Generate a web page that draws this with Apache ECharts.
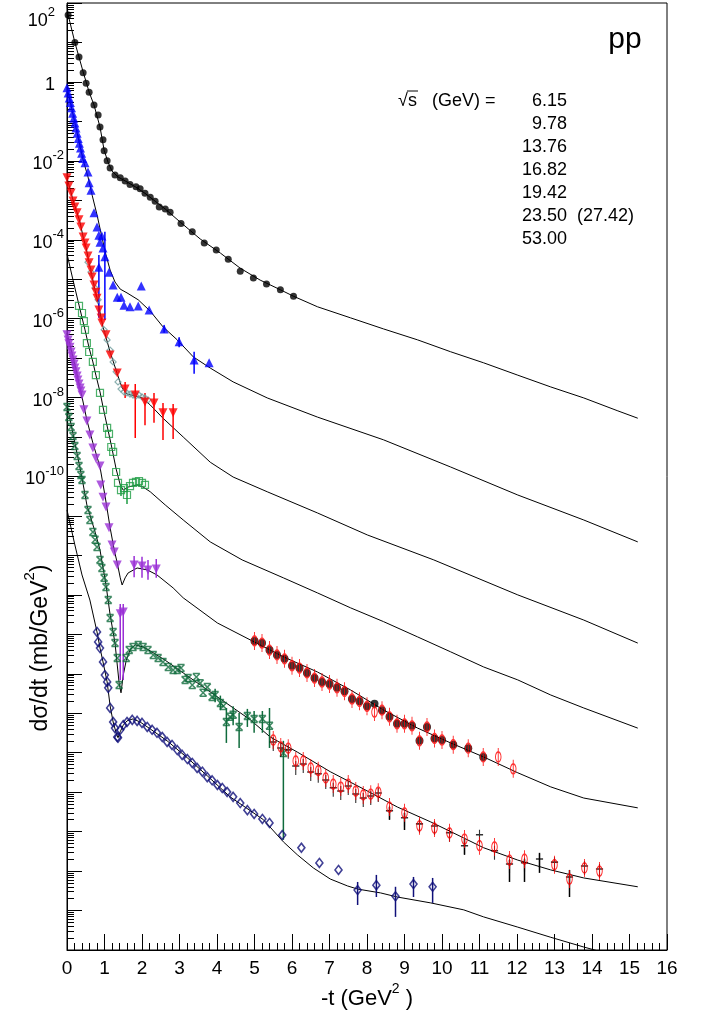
<!DOCTYPE html>
<html><head><meta charset="utf-8">
<script src="https://cdn.jsdelivr.net/npm/echarts@6/dist/echarts.min.js"></script>
<style>html,body{margin:0;padding:0;background:#fff}#c{width:705px;height:1027px}</style>
</head><body><div id="c"></div>
<script>
// ---------- tick labels / legend text ----------
const yLabelValues = [1e2, 1, 1e-2, 1e-4, 1e-6, 1e-8, 1e-10];
const energies = ['6.15', '9.78', '13.76', '16.82', '19.42', '23.50  (27.42)', '53.00'];

// ---------- model curves [ -t (GeV^2), dσ/dt (mb/GeV^2) ] ----------
const curveA = [[0,89],[0.03,50],[0.21,10],[0.43,1.8],[0.59,0.55],[0.72,0.26],[0.88,0.072],[0.99,0.0186],[1.10,8.9e-3],[1.20,5.5e-3],[1.36,3.9e-3],[1.55,3.1e-3],[1.82,2.2e-3],[2.08,1.5e-3],[2.35,9.5e-4],[2.62,6.0e-4],[3.02,2.8e-4],[3.55,1.05e-4],[4.09,4.6e-5],[4.62,1.9e-5],[5.15,9.5e-6],[5.69,5.4e-6],[6.04,3.7e-6],[6.68,2.0e-6],[7.56,1.05e-6],[8.44,5.5e-7],[9.35,2.9e-7],[10.23,1.45e-7],[11.11,7.6e-8],[12.02,3.7e-8],[12.90,1.86e-8],[13.78,9.8e-9],[14.69,4.6e-9],[15.22,3.0e-9]];
const curveB = [[0,0.74],[0.21,0.091],[0.43,0.0105],[0.56,3.9e-3],[0.67,1.35e-3],[0.80,4.3e-4],[0.93,1.17e-4],[1.04,4.1e-5],[1.15,1.7e-5],[1.28,8.5e-6],[1.42,5.6e-6],[1.60,4.5e-6],[1.90,3.0e-6],[2.22,1.55e-6],[2.56,6.2e-7],[2.94,2.9e-7],[3.37,1.07e-7],[3.82,5.6e-8],[4.43,2.5e-8],[5.34,9.8e-9],[6.68,3.2e-9],[8.44,8.5e-10],[10.23,1.74e-10],[12.02,3.4e-11],[13.78,7.9e-12],[15.22,2.2e-12]];
const curveC = [[0,3.7e-3],[0.16,1.02e-3],[0.27,4.8e-4],[0.35,2.7e-4],[0.43,1.17e-4],[0.51,6.2e-5],[0.59,2.6e-5],[0.67,1.14e-5],[0.75,5.3e-6],[0.83,2.5e-6],[0.91,1.04e-6],[0.96,6.2e-7],[1.15,1.43e-7],[1.34,4.0e-8],[1.47,1.75e-8],[1.60,1.23e-8],[1.82,1.1e-8],[2.00,9.8e-9],[2.22,6.5e-9],[2.56,3.0e-9],[3.10,1.0e-9],[3.82,2.3e-10],[4.43,9.7e-11],[5.34,4.1e-11],[6.68,1.19e-11],[8.01,3.3e-12],[9.78,7.7e-13],[12.02,1.0e-13],[13.78,2.3e-14],[15.22,6.0e-15]];
const curveD = [[0,4.4e-5],[0.16,9.5e-6],[0.32,2.2e-6],[0.48,5.2e-7],[0.59,1.8e-7],[0.69,8.0e-8],[0.77,3.7e-8],[0.88,1.39e-8],[0.96,5.8e-9],[1.07,1.9e-9],[1.18,6.3e-10],[1.31,1.55e-10],[1.42,6.1e-11],[1.50,4.5e-11],[1.63,5.4e-11],[1.87,6.1e-11],[2.03,5.4e-11],[2.22,4.1e-11],[2.62,1.9e-11],[3.10,7.9e-12],[3.82,2.2e-12],[4.67,7.7e-13],[5.77,2.7e-13],[6.68,1.12e-13],[7.56,4.7e-14],[8.44,2.1e-14],[9.35,8.6e-15],[10.23,3.6e-15],[11.11,1.49e-15],[12.02,7.0e-16],[12.90,2.9e-16],[13.78,1.36e-16],[15.22,4.2e-17]];
const curveE = [[0,4.3e-7],[0.21,6.7e-8],[0.40,1.04e-8],[0.53,2.7e-9],[0.69,7.1e-10],[0.88,1.74e-10],[1.01,3.4e-11],[1.15,5.0e-12],[1.26,1.37e-12],[1.34,6.4e-13],[1.42,2.7e-13],[1.47,1.78e-13],[1.55,2.7e-13],[1.63,3.6e-13],[1.87,4.8e-13],[2.14,4.3e-13],[2.40,3.2e-13],[2.83,1.5e-13],[3.10,8.4e-14],[4.01,1.94e-14],[4.89,7.2e-15],[5.77,2.7e-15],[6.68,1.11e-15],[7.56,3.9e-16],[8.44,1.21e-16],[9.35,4.2e-17],[10.23,1.77e-17],[11.11,7.8e-18],[12.02,3.1e-18],[12.90,1.36e-18],[13.78,7.1e-19],[15.22,4.0e-19]];
const curveF = [[0,6.5e-9],[0.21,7.1e-10],[0.40,9.2e-11],[0.53,1.9e-11],[0.75,3.9e-12],[0.88,1.37e-12],[1.04,1.78e-13],[1.15,3.1e-14],[1.28,6.0e-15],[1.39,5.8e-16],[1.44,3.3e-16],[1.50,9.3e-16],[1.58,2.2e-15],[1.68,4.0e-15],[1.82,5.4e-15],[2.03,4.8e-15],[2.22,3.8e-15],[2.62,2.2e-15],[3.10,1.05e-15],[4.01,2.6e-16],[4.89,6.8e-17],[5.42,2.5e-17],[6.14,1.04e-17],[7.02,3.3e-18],[7.91,1.2e-18],[8.81,4.2e-19],[9.70,1.76e-19],[10.58,6.9e-20],[11.11,3.9e-20],[12.02,1.9e-20],[12.90,1.07e-20],[13.78,6.7e-21],[15.22,4.0e-21]];
const curveG = [[0,1.42e-11],[0.21,1.84e-12],[0.40,3.2e-13],[0.61,7.4e-14],[0.80,1.15e-14],[0.88,4.5e-15],[0.96,2.0e-15],[1.07,6.2e-16],[1.15,1.53e-16],[1.23,6.0e-17],[1.31,3.2e-17],[1.36,2.4e-17],[1.42,3.4e-17],[1.50,5.0e-17],[1.60,6.4e-17],[1.76,7.2e-17],[1.95,6.0e-17],[2.22,4.0e-17],[2.67,2.0e-17],[3.21,7.4e-18],[3.74,2.6e-18],[4.35,7.6e-19],[5.24,2.0e-19],[5.77,5.5e-20],[6.14,2.6e-20],[6.57,1.2e-20],[7.02,6.3e-21],[7.48,4.2e-21],[7.75,3.5e-21],[8.36,2.8e-21],[8.81,2.2e-21],[9.70,1.56e-21],[10.58,1.04e-21],[11.11,6.9e-22],[12.02,3.8e-22],[12.90,2.1e-22],[13.78,1.19e-22],[15.22,5.0e-23]];

// ---------- data points ----------
const ptsA = [[0.03,50],[0.21,10],[0.32,4.3],[0.43,1.7],[0.51,0.93],[0.59,0.55],[0.72,0.26],[0.83,0.145],[0.88,0.072],[0.96,0.034],[0.99,0.018],[1.07,0.010],[1.15,6.6e-3],[1.28,4.4e-3],[1.42,3.7e-3],[1.55,3.1e-3],[1.68,2.5e-3],[1.84,2.2e-3],[1.95,1.95e-3],[2.08,1.5e-3],[2.22,1.2e-3],[2.35,9.5e-4],[2.46,6.8e-4],[2.62,6.0e-4],[2.75,5.0e-4],[3.04,2.6e-4],[3.34,1.6e-4],[3.66,8.3e-5],[3.98,5.5e-5],[4.30,3.2e-5],[4.62,1.6e-5],[4.97,1.07e-5],[5.32,7.6e-6],[5.69,5.4e-6],[6.04,3.7e-6]];
const ptsB = [[0.00,0.71],[0.03,0.52],[0.06,0.39],[0.09,0.30],[0.12,0.22],[0.15,0.16],[0.18,0.12],[0.21,0.091],[0.24,0.068],[0.27,0.050],[0.30,0.037],[0.33,0.028],[0.36,0.021],[0.39,0.0155],[0.42,0.0115],[0.48,8.9e-3],[0.56,5.2e-3],[0.59,2.8e-3],[0.64,1.8e-3],[0.72,4.8e-4],[0.80,2.1e-4],[0.85,1.3e-4],[0.88,8.7e-5],[0.93,1.25e-4],[0.96,6.2e-5],[1.01,3.7e-5],[0.85,2.0e-5],[1.12,1.5e-5],[1.23,7.1e-6],[1.34,3.5e-6],[1.44,3.5e-6],[1.52,2.2e-6],[1.68,2.0e-6],[1.90,2.1e-6],[1.98,6.7e-6],[2.19,1.66e-6],[2.59,5.5e-7],[2.99,2.6e-7],[3.39,8.9e-8],[3.79,7.6e-8]];
const errB = [[0.85,1.05e-6,4.1e-5],[1.01,9.3e-7,1.6e-4],[2.59,4.4e-7,6.8e-7],[2.99,1.9e-7,3.4e-7],[3.39,4.0e-8,1.45e-7]];
const ptsC = [[0,3.7e-3],[0.05,2.3e-3],[0.11,1.53e-3],[0.16,9.6e-4],[0.21,6.8e-4],[0.27,4.8e-4],[0.32,3.2e-4],[0.37,2.1e-4],[0.43,1.17e-4],[0.48,8.3e-5],[0.51,6.2e-5],[0.56,3.9e-5],[0.59,2.6e-5],[0.64,1.7e-5],[0.67,1.14e-5],[0.72,7.1e-6],[0.77,4.7e-6],[0.80,3.3e-6],[0.85,1.66e-6],[0.91,1.04e-6],[0.93,7.8e-7],[1.04,3.9e-7],[1.15,1.2e-7],[1.34,4.2e-8],[1.55,1.65e-8],[1.82,1.16e-8],[2.08,7.7e-9],[2.32,7.3e-9],[2.56,4.1e-9],[2.83,4.1e-9]];
const errC = [[1.55,9.8e-9,2.5e-8],[1.82,9.5e-10,2.2e-8],[2.08,2.0e-9,1.31e-8],[2.32,2.3e-9,1.31e-8],[2.56,8.4e-10,7.3e-9],[2.83,8.9e-10,6.9e-9]];
const ptsC2 = [[0.56,2.7e-5],[0.64,1.52e-5],[0.75,6.0e-6],[0.83,3.0e-6],[0.99,5.2e-7],[1.07,2.9e-7],[1.15,1.6e-7],[1.23,8.0e-8],[1.31,4.5e-8],[1.36,2.5e-8],[1.44,1.65e-8],[1.52,1.39e-8],[1.60,1.31e-8],[1.68,1.23e-8],[1.76,1.16e-8],[1.84,1.1e-8],[1.92,1.16e-8],[2.00,1.04e-8],[2.08,9.8e-9],[2.16,8.7e-9]];
const ptsD = [[0.32,2.1e-6],[0.40,1.39e-6],[0.45,8.7e-7],[0.48,5.2e-7],[0.53,2.4e-7],[0.59,1.43e-7],[0.69,8.0e-8],[0.77,3.7e-8],[0.88,1.31e-8],[0.96,4.9e-9],[1.07,1.7e-9],[1.12,1.2e-9],[1.18,5.6e-10],[1.23,4.2e-10],[1.31,1.3e-10],[1.36,6.9e-11],[1.44,4.5e-11],[1.52,5.1e-11],[1.60,3.4e-11],[1.68,5.7e-11],[1.76,6.9e-11],[1.84,7.3e-11],[1.92,7.7e-11],[2.00,6.9e-11],[2.08,6.1e-11]];
const errD = [[1.60,2.0e-11,5.5e-11],[1.44,3.2e-11,6.3e-11]];
const ptsE = [[0,3.9e-7],[0.03,2.9e-7],[0.05,2.3e-7],[0.08,1.9e-7],[0.11,1.43e-7],[0.13,1.13e-7],[0.16,9.0e-8],[0.19,7.1e-8],[0.21,5.6e-8],[0.24,4.5e-8],[0.27,3.5e-8],[0.29,2.8e-8],[0.32,2.2e-8],[0.35,1.75e-8],[0.37,1.47e-8],[0.40,1.16e-8],[0.45,4.9e-9],[0.53,2.55e-9],[0.61,1.13e-9],[0.69,5.3e-10],[0.77,2.9e-10],[0.88,1.85e-10],[0.90,6.1e-11],[0.96,3.0e-11],[1.04,1.69e-11],[1.12,5.0e-12],[1.20,1.84e-12],[1.26,1.22e-12],[1.34,5.7e-13],[1.42,3.3e-14],[1.50,3.7e-14],[1.79,5.7e-13],[2.00,5.4e-13],[2.16,4.3e-13],[2.38,4.5e-13]];
const errE = [[1.42,7.0e-16,5.9e-14],[1.50,7.0e-16,5.9e-14],[1.79,2.8e-13,9.7e-13],[2.00,2.7e-13,9.2e-13],[2.16,2.4e-13,7.7e-13],[2.38,2.7e-13,8.1e-13]];
const ptsF = [[0,5.8e-9],[0.05,3.2e-9],[0.11,1.8e-9],[0.16,1.06e-9],[0.21,5.9e-10],[0.27,3.3e-10],[0.32,1.85e-10],[0.37,1.09e-10],[0.40,8.2e-11],[0.48,3.4e-11],[0.56,1.42e-11],[0.61,7.9e-12],[0.69,3.9e-12],[0.75,2.5e-12],[0.80,1.64e-12],[0.88,7.7e-13],[0.93,4.8e-13],[0.99,2.7e-13],[1.04,1.58e-13],[1.10,7.4e-14],[1.15,2.6e-14],[1.23,1.15e-14],[1.28,6.0e-15],[1.34,2.5e-15],[1.39,5.2e-16],[1.58,2.5e-15],[1.66,4.0e-15],[1.76,4.8e-15],[1.90,5.4e-15],[2.03,4.8e-15],[2.16,4.0e-15],[2.30,3.0e-15],[2.43,2.5e-15],[2.56,2.0e-15],[2.70,1.49e-15],[2.83,1.25e-15],[2.94,1.25e-15],[3.04,1.4e-15],[3.15,7.0e-16],[3.23,7.8e-16],[3.34,5.2e-16],[3.45,8.3e-16],[3.55,5.8e-16],[3.63,3.3e-16],[3.74,4.6e-16],[3.87,2.6e-16],[3.95,2.9e-16],[4.09,1.82e-16],[4.17,1.53e-16],[4.25,6.0e-17],[4.35,8.1e-17],[4.43,9.1e-17],[4.59,4.5e-17],[4.81,8.5e-17],[4.99,7.2e-17],[5.21,7.2e-17],[5.40,4.8e-17],[5.77,9.8e-18]];
const errF = [[3.95,1.9e-16,4.2e-16],[4.09,1.2e-16,2.8e-16],[4.25,1.77e-17,1.36e-16],[4.43,5.0e-17,1.5e-16],[4.59,1.32e-17,1.02e-16],[4.81,4.5e-17,1.29e-16],[4.99,3.2e-17,1.14e-16],[5.21,3.2e-17,1.14e-16],[5.40,1.32e-17,1.36e-16],[5.77,6.2e-20,2.0e-17]];
const set1Red = [[5.0,6.8e-15],[5.2,6.0e-15],[5.4,4.0e-15],[5.6,3.0e-15],[5.8,2.4e-15],[6.0,1.6e-15],[6.2,1.4e-15],[6.4,1.05e-15],[6.6,7.8e-16],[6.8,6.2e-16],[7.0,5.5e-16],[7.2,4.4e-16],[7.4,3.6e-16],[7.6,2.3e-16],[7.8,2.0e-16],[8.0,1.5e-16],[8.2,1.07e-16],[8.4,1.2e-16],[8.6,8.1e-17],[8.8,5.4e-17],[9.0,5.4e-17],[9.2,4.8e-17],[9.4,2.0e-17],[9.6,4.5e-17],[9.8,2.3e-17],[10.0,2.1e-17],[10.3,1.6e-17],[10.7,1.3e-17],[11.1,7.8e-18],[11.5,7.8e-18],[11.9,3.9e-18]];
const set1Black = [[5.0,6.8e-15],[5.2,6.0e-15],[5.4,4.0e-15],[5.6,3.0e-15],[5.8,2.4e-15],[6.0,1.6e-15],[6.2,1.4e-15],[6.4,1.05e-15],[6.6,7.8e-16],[6.8,6.2e-16],[7.0,5.5e-16],[7.2,4.4e-16],[7.4,3.6e-16],[7.6,2.3e-16],[7.8,2.0e-16],[8.0,1.5e-16],[8.2,1.74e-16],[8.4,1.2e-16],[8.6,8.1e-17],[8.8,5.4e-17],[9.0,5.4e-17],[9.2,4.8e-17],[9.4,2.0e-17],[9.6,4.5e-17],[9.8,2.3e-17],[10.0,2.1e-17],[10.3,1.6e-17],[10.7,1.3e-17],[11.1,7.8e-18]];
const set2Red = [[5.5,2.1e-17],[5.7,1.4e-17],[5.9,1.3e-17],[6.1,6.2e-18],[6.3,6.2e-18],[6.5,4.1e-18],[6.7,3.5e-18],[6.9,2.3e-18],[7.1,1.6e-18],[7.3,1.35e-18],[7.5,1.6e-18],[7.7,1.07e-18],[7.9,8.5e-19],[8.1,8.9e-19],[8.3,1.0e-18],[8.6,4.2e-19],[9.0,3.0e-19],[9.4,1.4e-19],[9.8,1.23e-19],[10.2,9.3e-20],[10.6,6.5e-20],[11.0,4.4e-20],[11.4,4.1e-20],[11.8,1.9e-20],[12.2,2.0e-20],[13.0,1.45e-20],[13.4,6.3e-21],[13.8,1.2e-20],[14.2,1.0e-20]];
const set2Black = [[5.5,1.66e-17],[5.7,1.17e-17],[5.9,1.05e-17],[6.1,4.1e-18],[6.3,4.6e-18],[6.5,2.9e-18],[6.7,2.6e-18],[6.9,1.8e-18],[7.1,1.15e-18],[7.3,9.5e-19],[7.5,1.28e-18],[7.7,8.0e-19],[7.9,6.3e-19],[8.1,7.1e-19],[8.3,8.5e-19],[8.6,3.0e-19],[9.0,2.0e-19],[9.4,1.4e-19],[9.8,1.23e-19],[10.2,8.3e-20],[10.6,3.9e-20],[11.0,7.4e-20],[11.4,2.9e-20],[11.8,1.35e-20],[12.2,1.45e-20],[12.6,1.8e-20],[13.0,1.5e-20],[13.4,6.3e-21],[13.8,1.2e-20],[14.2,1.0e-20]];
const errSet2 = [[8.6,2.0e-19,4.2e-19],[9.0,1.1e-19,3.0e-19],[10.6,2.6e-20,6.5e-20],[11.8,5.3e-21,1.9e-20],[12.2,5.3e-21,2.0e-20],[12.6,9.0e-21,2.9e-20],[13.4,2.2e-21,1.07e-20]];
const ptsG = [[0.80,1.15e-14],[0.83,6.4e-15],[0.88,4.5e-15],[0.96,2.0e-15],[1.01,9.3e-16],[1.07,6.2e-16],[1.10,4.4e-16],[1.15,1.36e-16],[1.23,6.0e-17],[1.28,4.2e-17],[1.34,2.5e-17],[1.36,2.4e-17],[1.42,3.8e-17],[1.50,5.0e-17],[1.60,6.0e-17],[1.74,6.8e-17],[1.87,6.4e-17],[2.00,5.7e-17],[2.14,4.5e-17],[2.27,3.8e-17],[2.40,3.2e-17],[2.54,2.5e-17],[2.67,1.87e-17],[2.80,1.57e-17],[2.94,1.17e-17],[3.07,8.8e-18],[3.21,6.9e-18],[3.34,5.5e-18],[3.47,4.1e-18],[3.61,3.3e-18],[3.74,2.4e-18],[3.87,2.0e-18],[4.01,1.52e-18],[4.14,1.28e-18],[4.27,1.01e-18],[4.43,7.6e-19],[4.62,5.3e-19],[4.81,3.5e-19],[4.99,2.8e-19],[5.21,2.1e-19],[5.40,1.66e-19],[5.74,8.2e-20],[6.25,3.9e-20],[6.73,1.61e-20],[7.24,1.07e-20],[7.75,3.3e-21],[8.25,4.4e-21],[8.76,2.3e-21],[9.24,4.7e-21],[9.75,4.0e-21]];
const errG = [[7.75,1.38e-21,5.3e-21],[8.25,2.2e-21,8.0e-21],[8.76,6.9e-22,4.0e-21],[9.24,2.2e-21,7.1e-21],[9.75,1.56e-21,6.7e-21]];

// ---------- rendering ----------
const FONT = 'Liberation Sans, Arial, Helvetica, sans-serif';
const decadeTicks = [];
const minorTicks = [];
for (let e = -22; e <= 2; e++) {
  decadeTicks.push(Math.pow(10, e));
  if (e < 2) for (let m = 2; m <= 9; m++) minorTicks.push(m * Math.pow(10, e));
}

const chart = echarts.init(document.getElementById('c'), null, {renderer: 'canvas', width: 705, height: 1027});

const CIRCLE_BAR = 'path://M0,-9 L0,9 M-5,0 A5,5 0 1,0 5,0 A5,5 0 1,0 -5,0';
const CROSS = 'path://M-5,0 L5,0 M0,-5 L0,9';
const XMARK = 'path://M-4,-4 L4,4 M-4,4 L4,-4 M-4,-4 L4,-4 M-4,4 L4,4';

function curve(data) {
  return {type: 'line', data: data, showSymbol: false, smooth: false,
    lineStyle: {color: '#000', width: 1}, z: 2, clip: true, silent: true};
}
function pts(data, opt) {
  return Object.assign({type: 'scatter', data: data, z: 4, clip: true, silent: true}, opt);
}
function errs(data, color, w) {
  return {type: 'custom', data: data, z: 3, clip: true, silent: true,
    encode: {x: 0, y: [1, 2]},
    renderItem: function (params, api) {
      const p1 = api.coord([api.value(0), api.value(1)]);
      const p2 = api.coord([api.value(0), api.value(2)]);
      return {type: 'line', shape: {x1: p1[0], y1: p1[1], x2: p2[0], y2: p2[1]},
        style: {stroke: color, lineWidth: w || 1.5}};
    }};
}

const colBlue = '#0000ff', colRed = '#ff0000', colTeal = '#6f9c9c', colGreen = '#1f9d45',
  colPurple = '#9a2fd6', colDkGreen = '#0f6b3c', colNavy = '#10107a';

const option = {
  animation: false,
  backgroundColor: '#fff',
  grid: {left: 67, right: 38, top: 3, bottom: 77, show: true, borderColor: '#000', borderWidth: 1,
    containLabel: false, outerBoundsMode: 'none'},
  xAxis: {
    type: 'value', min: 0, max: 16, interval: 1,
    axisLine: {show: true, onZero: false, lineStyle: {color: '#000', width: 1}},
    axisTick: {show: true, inside: true, length: 16, lineStyle: {color: '#000', width: 1}},
    minorTick: {show: true, splitNumber: 5, length: 7, lineStyle: {color: '#000', width: 1}},
    axisLabel: {color: '#000', fontSize: 19, fontFamily: FONT, margin: 9},
    splitLine: {show: false}, minorSplitLine: {show: false}
  },
  yAxis: [{
    type: 'log', logBase: 10, min: 1e-22, max: 1e2, interval: 1,
    axisLine: {show: true, onZero: false, lineStyle: {color: '#000', width: 1}},
    axisTick: {show: true, inside: true, length: 15, customValues: decadeTicks, lineStyle: {color: '#000', width: 1}},
    axisLabel: {
      show: true, customValues: yLabelValues, margin: 3, color: '#000', fontFamily: FONT,
      formatter: function (v) {
        const e = Math.round(Math.log10(v));
        if (e === 0) return '{b|1}{gap|}';
        if (e === 2) return '{pad| }\n{b|10}{sp|2}{gap|}';
        return '{b|10}{sp|' + e + '}';
      },
      rich: {
        b: {fontSize: 18, lineHeight: 24, verticalAlign: 'bottom', fontFamily: FONT, color: '#000'},
        sp: {fontSize: 13, lineHeight: 13, verticalAlign: 'top', fontFamily: FONT, color: '#000'},
        gap: {width: 9},
        pad: {height: 30, lineHeight: 30}
      }
    },
    splitLine: {show: false}
  }, {
    type: 'log', logBase: 10, min: 1e-22, max: 1e2, position: 'left', offset: 0,
    axisLine: {show: false},
    axisTick: {show: true, inside: true, length: 7, customValues: minorTicks, lineStyle: {color: '#000', width: 1}},
    axisLabel: {show: false},
    splitLine: {show: false}
  }],
  series: [
    curve(curveA), curve(curveB), curve(curveC), curve(curveD), curve(curveE), curve(curveF), curve(curveG),
    errs(errB, colBlue), errs(errC, colRed), errs(errD, colGreen), errs(errE, colPurple),
    errs(errF, colDkGreen), errs(errSet2, '#000', 1.5), errs(errG, colNavy),
    pts(ptsA, {symbol: 'circle', symbolSize: 7, itemStyle: {color: '#000'}}),
    pts(ptsB, {symbol: 'triangle', symbolSize: 9, itemStyle: {color: colBlue}}),
    pts(ptsC2, {symbol: 'diamond', symbolSize: 6, itemStyle: {color: 'rgba(0,0,0,0)', borderColor: colTeal, borderWidth: 1.2}}),
    pts(ptsC, {symbol: 'triangle', symbolRotate: 180, symbolSize: 9, itemStyle: {color: colRed}}),
    pts(ptsD, {symbol: 'rect', symbolSize: 7, itemStyle: {color: 'rgba(0,0,0,0)', borderColor: colGreen, borderWidth: 1.2}}),
    pts(ptsE, {symbol: 'triangle', symbolRotate: 180, symbolSize: 9, itemStyle: {color: colPurple}}),
    pts(ptsF, {symbol: XMARK, symbolSize: 7, itemStyle: {color: 'rgba(0,0,0,0)', borderColor: colDkGreen, borderWidth: 1.5}}),
    pts(set1Black, {symbol: 'circle', symbolSize: 8, itemStyle: {color: '#000'}}),
    pts(set1Red, {symbol: CIRCLE_BAR, symbolSize: [10, 18], symbolKeepAspect: true, itemStyle: {color: 'rgba(0,0,0,0)', borderColor: colRed, borderWidth: 1.3}}),
    pts(set2Black, {symbol: CROSS, symbolSize: [10, 14], symbolKeepAspect: true, itemStyle: {color: 'rgba(0,0,0,0)', borderColor: '#000', borderWidth: 1.3}}),
    pts(set2Red, {symbol: CIRCLE_BAR, symbolSize: [10, 18], symbolKeepAspect: true, itemStyle: {color: 'rgba(0,0,0,0)', borderColor: colRed, borderWidth: 1.3}}),
    pts(ptsG, {symbol: 'diamond', symbolSize: [7, 9], itemStyle: {color: 'rgba(0,0,0,0)', borderColor: colNavy, borderWidth: 1.6}})
  ],
  graphic: [
    {type: 'text', x: 37, y: 648, rotation: Math.PI / 2,
      style: {text: '{a|dσ/dt (mb/GeV}{s|2}{a|)}', textAlign: 'center', textVerticalAlign: 'middle',
        rich: {a: {fontSize: 23, fontFamily: FONT, fill: '#000', lineHeight: 30, verticalAlign: 'bottom'},
               s: {fontSize: 15, fontFamily: FONT, fill: '#000', lineHeight: 15, verticalAlign: 'top'}}}},
    {type: 'text', x: 367, y: 996,
      style: {text: '{a|-t (GeV}{s|2}{a| )}', textAlign: 'center', textVerticalAlign: 'middle',
        rich: {a: {fontSize: 22, fontFamily: FONT, fill: '#000', lineHeight: 28, verticalAlign: 'bottom'},
               s: {fontSize: 14, fontFamily: FONT, fill: '#000', lineHeight: 14, verticalAlign: 'top'}}}},
    {type: 'text', x: 625, y: 40, style: {text: 'pp', fontSize: 30, fontFamily: FONT, fill: '#000', textAlign: 'center', textVerticalAlign: 'middle'}},
    {type: 'text', x: 398, y: 101, style: {text: '√s   (GeV) =', fontSize: 18, fontFamily: FONT, fill: '#000', textAlign: 'left', textVerticalAlign: 'middle'}},
    {type: 'line', shape: {x1: 407, y1: 91, x2: 418, y2: 91}, style: {stroke: '#000', lineWidth: 1}}
  ].concat(energies.map(function (s, i) {
    return {type: 'text', x: 567, y: 101 + i * 23, style: {text: s, fontSize: 18, fontFamily: FONT, fill: '#000',
      textAlign: i === 5 ? 'left' : 'right', textVerticalAlign: 'middle'}};
  }))
};
// the long label is placed so that its first number lines up with the others
option.graphic[option.graphic.length - 2].x = 522;
chart.setOption(option);
</script>
</body></html>
